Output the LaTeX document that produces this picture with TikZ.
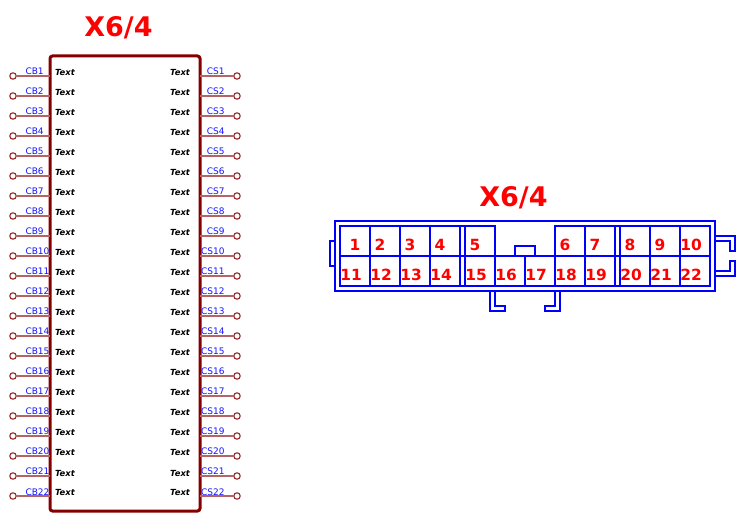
\documentclass[tikz,border=0pt]{standalone}
\usepackage{fontspec}
\setmainfont{DejaVu Sans}
\definecolor{boxred}{RGB}{132,0,0}
\definecolor{pinline}{RGB}{180,100,100}
\definecolor{labblue}{RGB}{20,20,255}
\definecolor{connblue}{RGB}{0,0,255}
\tikzset{
  every node/.style={inner sep=0pt,outer sep=0pt},
  titletext/.style={text=red,font=\fontsize{27}{27}\selectfont\bfseries,anchor=base},
  symbox/.style={draw=boxred,line width=3pt,rounded corners=2.5pt,minimum width=150pt,minimum height=455pt},
  pinhole/.style={circle,draw=boxred!85,line width=1.1pt,fill=white,minimum size=6.4pt},
  pinwire/.style={draw=pinline,line width=1.5pt},
  pinlabel/.style={text=labblue,font=\fontsize{9}{9}\selectfont},
  sigtext/.style={text=black,font=\fontsize{8.4}{9}\selectfont\bfseries\itshape},
  connline/.style={draw=connblue,line width=2pt,line cap=rect},
  cavnum/.style={text=red,font=\fontsize{15.4}{15}\selectfont\bfseries,anchor=base},
}
\begin{document}
\begin{tikzpicture}[x=1pt,y=-1pt]
\useasboundingbox (0,0) rectangle (745,521);
\node[titletext] (title1) at (118.5,37) {X6/4};
\node[titletext] (title2) at (513.5,207) {X6/4};
\node[symbox] (sym) at (125,283.5) {};
\foreach \i in {1,...,22}{
  \pgfmathsetmacro{\py}{56+20*\i}
  \node[pinhole] (L\i) at (13,\py) {};
  \node[pinhole] (R\i) at (237,\py) {};
  \draw[pinwire] (L\i) -- (L\i -| sym.west);
  \draw[pinwire] (R\i) -- (R\i -| sym.east);
  \node[pinlabel,anchor=base west] (cb\i) at (25.5,\py-1) {CB\i};
  \node[pinlabel,anchor=base east] (cs\i) at (224.5,\py-1) {CS\i};
  \node[sigtext,anchor=base west] (tl\i) at (55,\py) {Text};
  \node[sigtext,anchor=base east] (tr\i) at (190,\py) {Text};
}
\draw[connline] (335,221) rectangle (715,291);
\draw[connline] (335,241) -- (330,241) -- (330,266) -- (335,266);
\draw[connline] (495,256) -- (495,226) -- (340,226) -- (340,286) -- (710,286) -- (710,226) -- (555,226) -- (555,256);
\draw[connline] (340,256) -- (710,256);
\foreach \x in {370,400,430,460,465}{\draw[connline] (\x,226) -- (\x,286);}
\foreach \x in {495,525,555,585,615,620,650,680}{\draw[connline] (\x,256) -- (\x,286);}
\foreach \x in {585,615,620,650,680}{\draw[connline] (\x,226) -- (\x,256);}
\draw[connline] (515,256) -- (515,246) -- (535,246) -- (535,256);
\draw[connline] (490,291) -- (490,311) -- (505,311) -- (505,306) -- (495,306) -- (495,291);
\draw[connline] (560,291) -- (560,311) -- (545,311) -- (545,306) -- (555,306) -- (555,291);
\draw[connline] (715,236) -- (735,236) -- (735,251) -- (730,251) -- (730,241) -- (715,241);
\draw[connline] (715,276) -- (735,276) -- (735,261) -- (730,261) -- (730,271) -- (715,271);
\foreach \n/\x in {1/355,2/380,3/410,4/440,5/475,6/565,7/595,8/630,9/660,10/691}{
  \node[cavnum] (c\n) at (\x,251) {\n};
}
\foreach \n/\x in {11/351,12/381,13/411,14/441,15/476,16/506,17/536,18/566,19/596,20/631,21/661,22/691}{
  \node[cavnum] (c\n) at (\x,281) {\n};
}
\end{tikzpicture}
\end{document}
